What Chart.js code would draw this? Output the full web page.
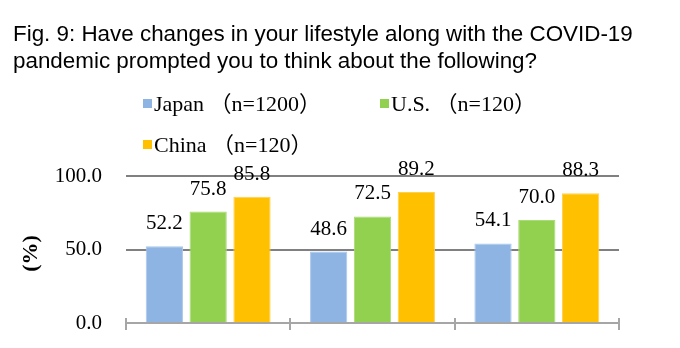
<!DOCTYPE html>
<html>
<head>
<meta charset="utf-8">
<script src="https://cdn.jsdelivr.net/npm/chart.js@4/dist/chart.umd.min.js"></script>
<style>
  html, body { margin: 0; padding: 0; background: #ffffff; }
  #wrap { width: 680px; height: 348px; position: relative; }
</style>
</head>
<body>
<div id="wrap"><canvas id="c" width="680" height="348"></canvas></div>
<script>
// Survey items (three questions, unlabeled on the axis)
const categories = ['1', '2', '3'];
const seriesNames = ['Japan （n=1200）', 'U.S. （n=120）', 'China （n=120）'];
const japan = [52.2, 48.6, 54.1];
const us = [75.8, 72.5, 70.0];
const china = [85.8, 89.2, 88.3];
const yTicks = [0, 50, 100];
const titleLines = [
  'Fig. 9: Have changes in your lifestyle along with the COVID-19',
  'pandemic prompted you to think about the following?'
];

const fills = ['#8db4e2', '#92d050', '#ffc000'];
const edges = ['#a9c7ec', '#a9dc74', '#ffd04d'];
const SERIF = '"Liberation Serif", "Times New Roman", "Noto Sans CJK JP", serif';
const SANS = '"Liberation Sans", Arial, sans-serif';

// Title, legend, value labels, y-axis name and cross tick marks
const decor = {
  id: 'decor',
  afterDraw(chart) {
    const ctx = chart.ctx;
    const x = chart.scales.x;
    const area = chart.chartArea;
    ctx.save();

    // title
    ctx.fillStyle = '#000000';
    ctx.font = '22.4px ' + SANS;
    ctx.textAlign = 'left';
    ctx.textBaseline = 'alphabetic';
    ctx.fillText(titleLines[0], 13, 41);
    ctx.fillText(titleLines[1], 13, 68);

    // legend
    const legendPos = [[143, 99], [380, 99], [143, 140]];
    ctx.font = '22px ' + SERIF;
    chart.data.datasets.forEach((ds, i) => {
      const [lx, ly] = legendPos[i];
      ctx.fillStyle = ds.backgroundColor;
      ctx.fillRect(lx, ly, 9, 9);
      ctx.fillStyle = '#000000';
      ctx.fillText(ds.label, lx + 11, ly + 12);
    });

    // cross ticks on the category axis
    ctx.strokeStyle = '#a6a6a6';
    ctx.lineWidth = 2;
    const half = (x.getPixelForValue(1) - x.getPixelForValue(0)) / 2;
    for (let i = 0; i <= categories.length; i++) {
      const px = Math.round(x.getPixelForValue(i) - half);
      ctx.beginPath();
      ctx.moveTo(px, area.bottom - 5);
      ctx.lineTo(px, area.bottom + 7);
      ctx.stroke();
    }

    // value labels above bars
    ctx.fillStyle = '#000000';
    ctx.font = '21px ' + SERIF;
    ctx.textAlign = 'center';
    chart.data.datasets.forEach((ds, i) => {
      chart.getDatasetMeta(i).data.forEach((bar, j) => {
        ctx.fillText(ds.data[j].toFixed(1), bar.x, bar.y - 17);
      });
    });

    // y-axis name, rotated
    ctx.font = 'bold 22px ' + SERIF;
    ctx.translate(31, (area.top + area.bottom) / 2 + 4);
    ctx.rotate(-Math.PI / 2);
    ctx.textBaseline = 'middle';
    ctx.fillText('(%)', 0, 0);
    ctx.restore();
  }
};

const datasets = [japan, us, china].map((d, i) => ({
  label: seriesNames[i],
  data: d,
  backgroundColor: fills[i],
  borderColor: edges[i],
  borderWidth: 1,
  categoryPercentage: 0.8,
  barPercentage: 0.85
}));

new Chart(document.getElementById('c'), {
  type: 'bar',
  data: { labels: categories, datasets },
  options: {
    responsive: false,
    animation: false,
    devicePixelRatio: 1,
    layout: { padding: { left: 0, top: 176, right: 61, bottom: 0 } },
    plugins: {
      legend: { display: false },
      title: { display: false },
      tooltip: { enabled: false }
    },
    scales: {
      x: {
        offset: true,
        ticks: { display: false },
        grid: { display: false },
        border: { display: true, color: '#a6a6a6', width: 2 },
        afterFit(s) { s.height = 25; s.paddingLeft = 0; s.paddingRight = 0; }
      },
      y: {
        min: 0,
        max: 100,
        afterBuildTicks(s) { s.ticks = yTicks.map(v => ({ value: v })); },
        ticks: {
          padding: 24,
          color: '#000000',
          font: { family: SERIF, size: 21 },
          callback: v => Number(v).toFixed(1)
        },
        grid: {
          drawTicks: false,
          color: c => (c.tick && c.tick.value === 0 ? 'rgba(0,0,0,0)' : '#808080'),
          lineWidth: 2
        },
        border: { display: false },
        afterFit(s) { s.width = 126; s.paddingTop = 0; s.paddingBottom = 0; }
      }
    }
  },
  plugins: [decor]
});
</script>
</body>
</html>
